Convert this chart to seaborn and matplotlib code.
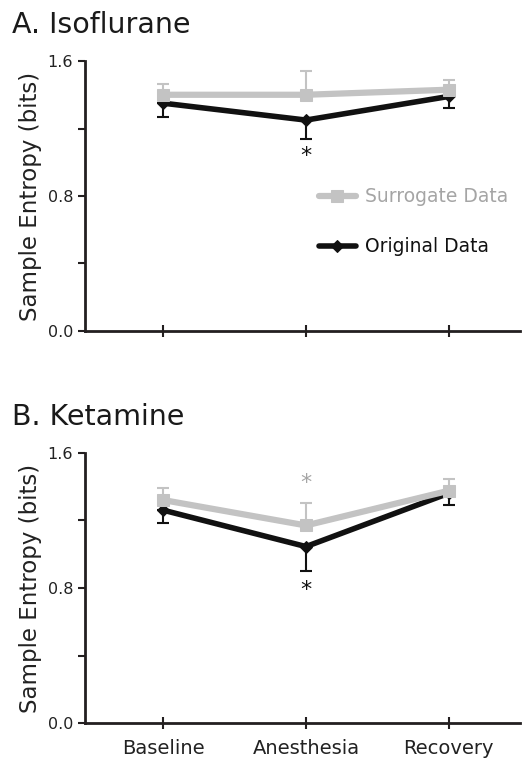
import matplotlib
matplotlib.use("Agg")
import matplotlib.pyplot as plt
import seaborn as sns
import pandas as pd

# Values (mean, one-sided SD)
conditions = ["Baseline", "Anesthesia", "Recovery"]

iso_surrogate = [1.40, 1.40, 1.43]
iso_surrogate_sd = [0.065, 0.14, 0.06]
iso_original = [1.35, 1.25, 1.39]
iso_original_sd = [0.08, 0.11, 0.07]

ket_surrogate = [1.32, 1.17, 1.375]
ket_surrogate_sd = [0.07, 0.135, 0.07]
ket_original = [1.26, 1.045, 1.36]
ket_original_sd = [0.075, 0.145, 0.07]

panel_titles = ["A. Isoflurane", "B. Ketamine"]
yticks = [0.0, 0.4, 0.8, 1.2, 1.6]
ytick_labels = ["0.0", "", "0.8", "", "1.6"]

GREY = "#c3c3c3"
GREY_TEXT = "#a5a5a5"
BLACK = "#111111"
AXIS = "#231f20"

sns.set_theme(style="ticks")
plt.rcParams["font.family"] = ["DejaVu Sans"]

fig = plt.figure(figsize=(5.31, 7.60), dpi=100)
ax_a = fig.add_axes([0.160, 0.5645, 0.819, 0.3552])
ax_b = fig.add_axes([0.160, 0.0483, 0.819, 0.3560])

panels = [
    (ax_a, iso_surrogate, iso_surrogate_sd, iso_original, iso_original_sd),
    (ax_b, ket_surrogate, ket_surrogate_sd, ket_original, ket_original_sd),
]

for i, (ax, sur, sur_sd, orig, orig_sd) in enumerate(panels):
    df = pd.DataFrame({
        "condition": conditions * 2,
        "entropy": orig + sur,
        "series": ["Original Data"] * 3 + ["Surrogate Data"] * 3,
    })
    # error bars: surrogate upward, original downward
    ax.errorbar(conditions, orig, yerr=[orig_sd, [0, 0, 0]], fmt="none",
                ecolor=BLACK, elinewidth=1.5, capsize=4, capthick=1.5, zorder=2)
    ax.errorbar(conditions, sur, yerr=[[0, 0, 0], sur_sd], fmt="none",
                ecolor=GREY, elinewidth=1.5, capsize=4, capthick=1.5, zorder=2)
    sns.lineplot(data=df[df.series == "Original Data"], x="condition", y="entropy",
                 color=BLACK, linewidth=4, marker="D", markersize=6,
                 markeredgecolor=BLACK, ax=ax, zorder=3, label="Original Data")
    sns.lineplot(data=df[df.series == "Surrogate Data"], x="condition", y="entropy",
                 color=GREY, linewidth=4.5, marker="s", markersize=9,
                 markeredgecolor=GREY, ax=ax, zorder=4, label="Surrogate Data")

    ax.set_xlim(-0.55, 2.5)
    ax.set_ylim(0, 1.6)
    ax.set_yticks(yticks)
    ax.set_yticklabels(ytick_labels)
    ax.set_xlabel("")
    ax.set_ylabel("Sample Entropy (bits)", fontsize=16.5, color="#222222", labelpad=4)
    sns.despine(ax=ax)
    for s in ["left", "bottom"]:
        ax.spines[s].set_linewidth(2)
        ax.spines[s].set_color(AXIS)
    ax.tick_params(axis="y", direction="out", length=5, width=1.5, color=AXIS,
                   labelsize=11.5, labelcolor="#222222")
    ax.tick_params(axis="x", direction="inout", length=8, width=1.5, color=AXIS,
                   labelsize=14, labelcolor="#222222", pad=7)
    ax.text(-0.168, 1.08, panel_titles[i], transform=ax.transAxes,
            fontsize=20.5, color="#1a1a1a", va="bottom", ha="left")

    if i == 0:
        handles, labels = ax.get_legend_handles_labels()
        leg = ax.legend(handles[::-1], labels[::-1], loc="center left",
                        bbox_to_anchor=(0.52, 0.405), frameon=False,
                        fontsize=13.5, handlelength=2.0, labelspacing=1.65,
                        labelcolor=[GREY_TEXT, BLACK], handletextpad=0.5,
                        borderaxespad=0)
    else:
        ax.get_legend().remove()

# significance asterisks
ax_a.text("Anesthesia", 1.04, "*", ha="center", va="center", fontsize=16, color=BLACK)
ax_b.text("Anesthesia", 1.42, "*", ha="center", va="center", fontsize=16, color=GREY_TEXT)
ax_b.text("Anesthesia", 0.79, "*", ha="center", va="center", fontsize=16, color=BLACK)

ax_a.set_xticklabels([])

fig.savefig("out.png", dpi=100)
